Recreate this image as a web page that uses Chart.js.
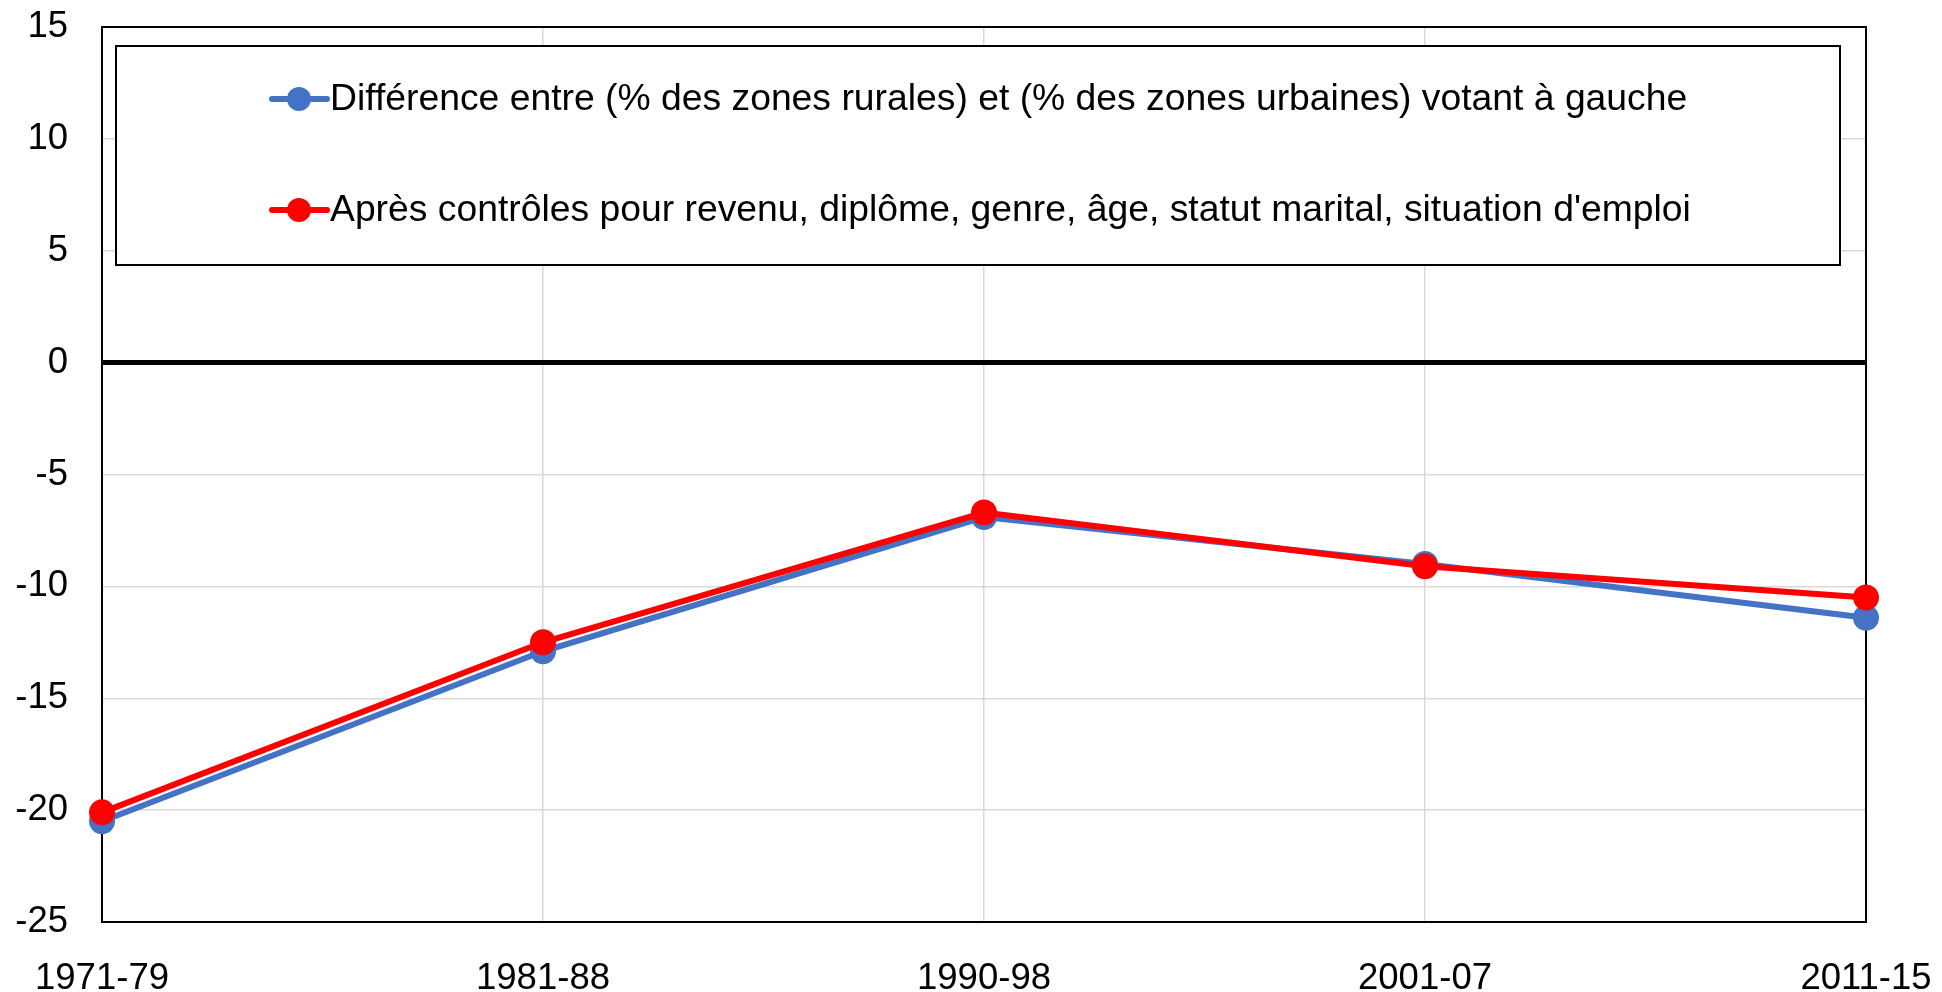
<!DOCTYPE html>
<html>
<head>
<meta charset="utf-8">
<script src="https://cdn.jsdelivr.net/npm/chart.js@4"></script>
<style>
  html, body { margin: 0; padding: 0; background: #fff; }
  #wrap { width: 1942px; height: 992px; }
</style>
</head>
<body>
<div id="wrap"><canvas id="myChart"></canvas></div>
<script>
// Data
const periods = ["1971-79", "1981-88", "1990-98", "2001-07", "2011-15"];
const rawGap = [-20.5, -12.9, -6.9, -9.0, -11.4];
const controlledGap = [-20.1, -12.5, -6.7, -9.1, -10.5];
const yTicks = [-25, -20, -15, -10, -5, 0, 5, 10, 15];

const labelRaw = "Différence entre (% des zones rurales) et (% des zones urbaines) votant à gauche";
const labelControlled = "Après contrôles pour revenu, diplôme, genre, âge, statut marital, situation d'emploi";

const fontFamily = "'Liberation Sans', Arial, sans-serif";

// Frame around the plot area (Excel style)
const frame = {
  id: "frame",
  beforeDatasetsDraw(chart) {
    const a = chart.chartArea;
    const c = chart.ctx;
    c.save();
    c.strokeStyle = "#000";
    c.lineWidth = 2;
    c.strokeRect(a.left, a.top, a.right - a.left, a.bottom - a.top);
    c.restore();
  },
};

// Legend box drawn inside the plot area
const boxLegend = {
  id: "boxLegend",
  afterDraw(chart) {
    const c = chart.ctx;
    const x0 = 116, y0 = 46, x1 = 1840, y1 = 265;
    c.save();
    c.fillStyle = "#fff";
    c.fillRect(x0, y0, x1 - x0, y1 - y0);
    c.strokeStyle = "#000";
    c.lineWidth = 2;
    c.strokeRect(x0, y0, x1 - x0, y1 - y0);

    const rows = chart.data.datasets.slice().sort((p, q) => p.legendRow - q.legendRow);
    const rowY = [99, 210];
    const mx = 272;
    c.font = "37.3px " + fontFamily;
    c.textBaseline = "middle";
    rows.forEach((ds, k) => {
      const y = rowY[k];
      c.strokeStyle = ds.borderColor;
      c.lineWidth = 6;
      c.lineCap = "round";
      c.beginPath();
      c.moveTo(mx, y);
      c.lineTo(mx + 55, y);
      c.stroke();
      c.fillStyle = ds.borderColor;
      c.beginPath();
      c.arc(mx + 27, y, 12, 0, Math.PI * 2);
      c.fill();
      c.fillStyle = "#000";
      c.fillText(ds.label, mx + 58, y + 1);
    });
    c.restore();
  },
};

const ctx = document.getElementById("myChart").getContext("2d");

new Chart(ctx, {
  type: "line",
  data: {
    labels: periods,
    datasets: [
      {
        label: labelRaw,
        data: rawGap,
        borderColor: "#4472C4",
        backgroundColor: "#4472C4",
        borderWidth: 6,
        pointRadius: 13,
        pointBorderWidth: 0,
        order: 1,
        legendRow: 0,
      },
      {
        label: labelControlled,
        data: controlledGap,
        borderColor: "#FF0000",
        backgroundColor: "#FF0000",
        borderWidth: 6,
        pointRadius: 13,
        pointBorderWidth: 0,
        order: 0,
        legendRow: 1,
      },
    ],
  },
  options: {
    responsive: true,
    maintainAspectRatio: false,
    animation: false,
    layout: { padding: { left: 0, right: 76, top: 27, bottom: 0 } },
    plugins: {
      legend: { display: false },
      tooltip: { enabled: false },
    },
    scales: {
      x: {
        offset: false,
        grid: { color: "#d9d9d9", lineWidth: 1.5, drawTicks: false },
        border: { display: true, color: "#000", width: 2 },
        ticks: {
          color: "#000",
          padding: 35,
          maxRotation: 0,
          font: { size: 36.5, family: fontFamily },
        },
        afterFit(scale) {
          scale.height = 70;
          scale.paddingLeft = 0;
          scale.paddingRight = 0;
        },
      },
      y: {
        min: -25,
        max: 15,
        afterBuildTicks(scale) { scale.ticks = yTicks.map(v => ({ value: v })); },
        grid: {
          color: c => (c.tick && c.tick.value === 0 ? "#000" : "#d9d9d9"),
          lineWidth: c => (c.tick && c.tick.value === 0 ? 5 : 1.5),
          drawTicks: false,
        },
        border: { display: true, color: "#000", width: 2 },
        ticks: {
          color: "#000",
          padding: 34,
          font: { size: 36.5, family: fontFamily },
        },
        afterFit(scale) {
          scale.width = 102;
          scale.paddingTop = 0;
          scale.paddingBottom = 0;
        },
      },
    },
  },
  plugins: [frame, boxLegend],
});
</script>
</body>
</html>
